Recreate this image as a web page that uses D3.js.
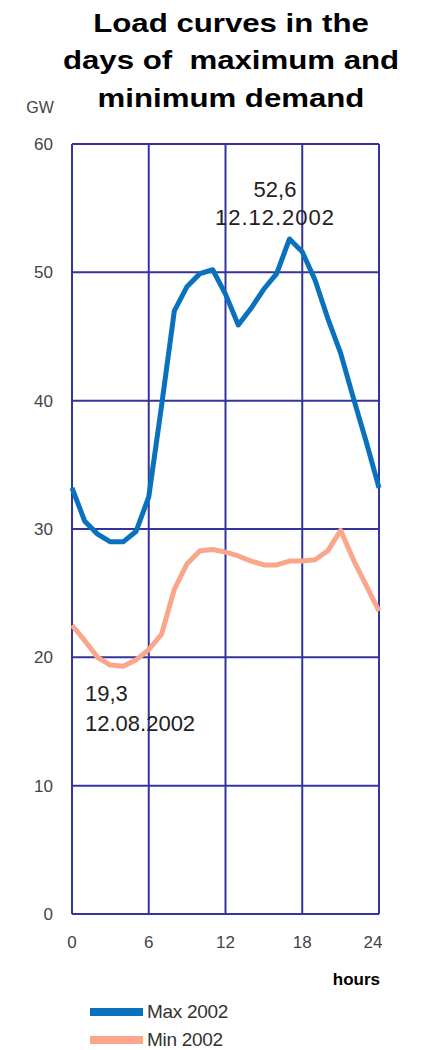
<!DOCTYPE html>
<html>
<head>
<meta charset="utf-8">
<script src="https://cdn.jsdelivr.net/npm/d3@7"></script>
<style>
  body { margin: 0; background: #fff; }
  svg { display: block; font-family: Arial, "Liberation Sans", sans-serif; }
</style>
</head>
<body>
<svg id="chart" width="421" height="1050"></svg>
<script>
// chart data
var hours = [0,1,2,3,4,5,6,7,8,9,10,11,12,13,14,15,16,17,18,19,20,21,22,23,24];
var maxLoad = [33.2,30.6,29.6,29.0,29.0,29.8,32.5,39.6,47.0,48.9,49.9,50.2,48.3,45.9,47.2,48.7,49.9,52.6,51.6,49.4,46.4,43.7,40.2,36.8,33.2];
var minLoad = [22.5,21.3,20.0,19.4,19.3,19.8,20.6,21.8,25.3,27.3,28.3,28.4,28.2,27.9,27.5,27.2,27.2,27.5,27.5,27.6,28.3,29.9,27.6,25.6,23.6];
var xTicks = [0,6,12,18,24];
var yTicks = [0,10,20,30,40,50,60];
var titleLines = ["Load curves in the", "days of  maximum and", "minimum demand"];
var seriesNames = ["Max 2002", "Min 2002"];
var peakNote = ["52,6", "12.12.2002"];
var lowNote = ["19,3", "12.08.2002"];

var svg = d3.select("#chart");
var plotLeft = 72, plotRight = 379, plotTop = 144, plotBottom = 914;

var x = d3.scaleLinear().domain([0, 24]).range([plotLeft, plotRight]);
var y = d3.scaleLinear().domain([0, 60]).range([plotBottom, plotTop]);

var gridColor = "#34349c";
var blue = "#0a72bd";
var orange = "#f9a68b";

// title, a bit stretched like the original
var title = svg.append("g").attr("transform", "translate(231,0) scale(1.2,1)");
title.selectAll("text").data(titleLines).enter().append("text")
	.attr("x", 0)
	.attr("y", function(d, i){ return 32 + i*37.5; })
	.attr("text-anchor", "middle")
	.attr("font-size", 26)
	.attr("font-weight", "bold")
	.attr("fill", "#000")
	.style("white-space", "pre")
	.text(function(d){ return d; });

// grid
svg.append("g").selectAll("line").data(xTicks).enter().append("line")
	.attr("x1", function(d){ return x(d); }).attr("x2", function(d){ return x(d); })
	.attr("y1", y(60)).attr("y2", y(0))
	.attr("stroke", gridColor).attr("stroke-width", 2);
svg.append("g").selectAll("line").data(yTicks).enter().append("line")
	.attr("x1", x(0)).attr("x2", x(24))
	.attr("y1", function(d){ return y(d); }).attr("y2", function(d){ return y(d); })
	.attr("stroke", gridColor).attr("stroke-width", 2);

// y tick labels
svg.append("g").selectAll("text").data(yTicks).enter().append("text")
	.attr("x", 53)
	.attr("y", function(d){ return y(d) + 6; })
	.attr("text-anchor", "end")
	.attr("font-size", 17)
	.attr("fill", "#444")
	.text(function(d){ return d; });

svg.append("text").attr("x", 40).attr("y", 113)
	.attr("text-anchor", "middle").attr("font-size", 16).attr("fill", "#444")
	.text("GW");

// x tick labels
svg.append("g").selectAll("text").data(xTicks).enter().append("text")
	.attr("x", function(d){ return x(d) - (d == 24 ? 6 : 0); })
	.attr("y", 948)
	.attr("text-anchor", "middle")
	.attr("font-size", 17)
	.attr("fill", "#444")
	.text(function(d){ return d; });

svg.append("text").attr("x", 380).attr("y", 985)
	.attr("text-anchor", "end").attr("font-size", 17).attr("font-weight", "bold")
	.text("hours");

// curves
var line = d3.line()
	.x(function(d){ return x(d[0]); })
	.y(function(d){ return y(d[1]); });

svg.append("path").datum(d3.zip(hours, minLoad))
	.attr("d", line).attr("fill", "none")
	.attr("stroke", orange).attr("stroke-width", 5).attr("stroke-linejoin", "round");
svg.append("path").datum(d3.zip(hours, maxLoad))
	.attr("d", line).attr("fill", "none")
	.attr("stroke", blue).attr("stroke-width", 5).attr("stroke-linejoin", "round");

// notes
var noteStyle = function(sel){
	sel.attr("font-size", 22).attr("fill", "#222");
};
var pk = svg.append("g");
pk.append("text").attr("x", 275).attr("y", 197).attr("text-anchor", "middle").call(noteStyle).text(peakNote[0]);
pk.append("text").attr("x", 275).attr("y", 225).attr("text-anchor", "middle").attr("letter-spacing", 1).call(noteStyle).text(peakNote[1]);
var lw = svg.append("g");
lw.append("text").attr("x", 85).attr("y", 701).call(noteStyle).text(lowNote[0]);
lw.append("text").attr("x", 85).attr("y", 731).call(noteStyle).text(lowNote[1]);

// legend
var legend = svg.append("g").selectAll("g").data(seriesNames).enter().append("g")
	.attr("transform", function(d, i){ return "translate(90," + (1012 + i*28) + ")"; });
legend.append("line").attr("x1", 0).attr("x2", 53).attr("y1", 0).attr("y2", 0)
	.attr("stroke", function(d, i){ return i == 0 ? blue : orange; })
	.attr("stroke-width", 8);
legend.append("text").attr("x", 57).attr("y", 6)
	.attr("font-size", 19).attr("fill", "#333").attr("letter-spacing", -0.3)
	.text(function(d){ return d; });
</script>
</body>
</html>
